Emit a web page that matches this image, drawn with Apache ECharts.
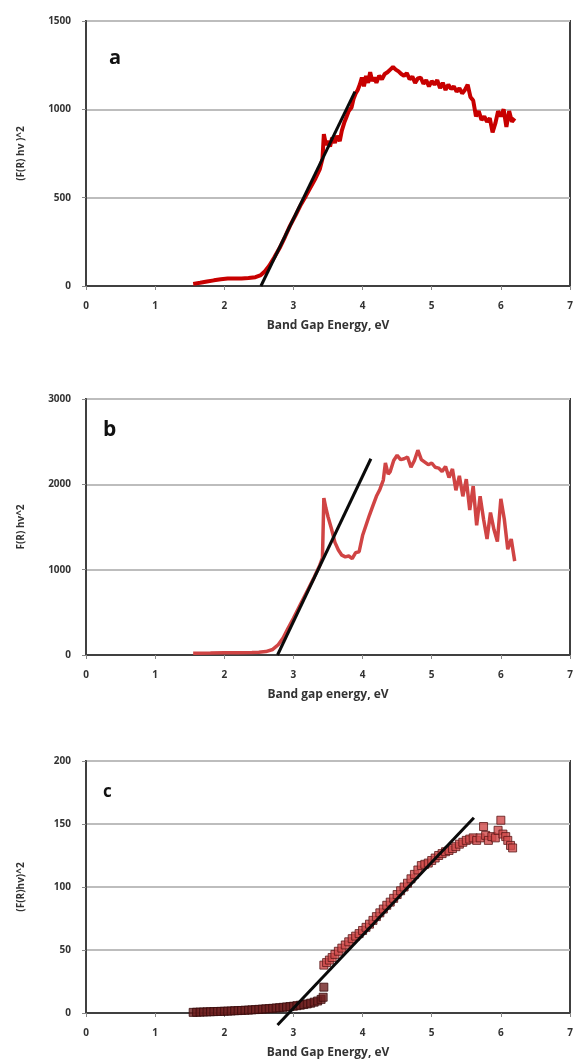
<!DOCTYPE html>
<html>
<head>
<meta charset="utf-8">
<script src="https://cdn.jsdelivr.net/npm/echarts@6/dist/echarts.min.js"></script>
<style>html,body{margin:0;padding:0;background:#fff;}#chart{width:577px;height:1062px;}</style>
</head>
<body>
<div id="chart"></div>
<script>
// ---------- data ----------
const xTicks = [0, 1, 2, 3, 4, 5, 6, 7];

// panel a
const aX = [1.55,1.65,1.75,1.85,1.95,2.05,2.15,2.25,2.35,2.45,2.52,2.58,2.65,2.72,2.8,2.88,2.95,3.03,3.1,3.18,3.25,3.32,3.38,3.42,3.44,3.47,3.5,3.53,3.56,3.6,3.63,3.67,3.7,3.74,3.77,3.8,3.84,3.87,3.9,3.93,3.96,3.99,4.02,4.05,4.08,4.11,4.14,4.17,4.2,4.24,4.28,4.32,4.36,4.4,4.44,4.48,4.52,4.56,4.6,4.64,4.68,4.72,4.76,4.8,4.84,4.88,4.92,4.96,5.0,5.04,5.08,5.12,5.16,5.2,5.24,5.28,5.32,5.36,5.4,5.44,5.48,5.52,5.56,5.6,5.64,5.68,5.72,5.76,5.8,5.84,5.88,5.92,5.96,6.0,6.04,6.08,6.12,6.16,6.2];
const aY = [12,18,25,32,38,42,42,43,45,50,60,80,115,160,215,280,340,400,455,510,560,610,660,720,860,800,820,790,840,810,850,820,880,930,960,990,1010,1060,1090,1110,1140,1180,1130,1190,1150,1210,1160,1180,1150,1190,1170,1200,1210,1225,1240,1225,1215,1200,1190,1205,1170,1185,1150,1175,1180,1145,1165,1130,1160,1140,1165,1120,1150,1110,1140,1115,1130,1100,1120,1090,1110,1140,1070,1050,960,990,940,960,930,950,870,920,990,960,1000,900,990,930,950];
const aFitX = [2.53, 3.89];
const aFitY = [0, 1100];

// panel b
const bX = [1.55,1.8,2.0,2.2,2.4,2.5,2.6,2.7,2.78,2.85,2.92,3.0,3.1,3.2,3.3,3.38,3.42,3.44,3.47,3.5,3.55,3.6,3.65,3.7,3.75,3.8,3.85,3.9,3.95,4.0,4.05,4.1,4.15,4.2,4.25,4.3,4.33,4.37,4.4,4.45,4.5,4.55,4.6,4.65,4.7,4.75,4.8,4.85,4.9,4.95,5.0,5.05,5.1,5.15,5.2,5.25,5.3,5.35,5.4,5.45,5.5,5.55,5.6,5.65,5.7,5.75,5.8,5.85,5.9,5.95,6.0,6.05,6.1,6.15,6.2];
const bY = [20,22,25,25,28,32,40,65,120,200,310,430,590,750,910,1050,1140,1840,1720,1620,1480,1320,1230,1170,1150,1160,1130,1200,1210,1400,1520,1640,1750,1860,1940,2050,2250,2120,2150,2280,2340,2290,2300,2320,2200,2280,2400,2290,2260,2230,2250,2200,2190,2150,2210,2080,2180,1930,2100,1860,2060,1700,1980,1520,1860,1590,1360,1670,1470,1330,1830,1590,1240,1360,1100];
const bFitX = [2.77, 4.12];
const bFitY = [0, 2300];

// panel c
const cLowX = [1.55,1.6,1.65,1.7,1.75,1.8,1.85,1.9,1.95,2.0,2.05,2.1,2.15,2.2,2.25,2.3,2.35,2.4,2.45,2.5,2.55,2.6,2.65,2.7,2.75,2.8,2.85,2.9,2.95,3.0,3.05,3.1,3.15,3.2,3.25,3.3,3.35,3.4,3.43,3.44];
const cLowY = [0.5,0.6,0.7,0.8,0.9,1.0,1.1,1.2,1.3,1.4,1.5,1.6,1.8,1.9,2.0,2.2,2.3,2.5,2.7,2.9,3.1,3.3,3.5,3.7,4.0,4.2,4.5,4.8,5.1,5.4,5.8,6.2,6.7,7.2,7.8,8.6,9.5,10.8,12.5,20.5];
const cHighX = [3.44,3.48,3.52,3.56,3.6,3.65,3.7,3.75,3.8,3.85,3.9,3.95,4.0,4.05,4.1,4.15,4.2,4.25,4.3,4.35,4.4,4.45,4.5,4.55,4.6,4.65,4.7,4.75,4.8,4.85,4.9,4.95,5.0,5.05,5.1,5.15,5.2,5.25,5.3,5.35,5.4,5.45,5.5,5.55,5.6,5.65,5.7,5.75,5.78,5.82,5.87,5.92,5.96,6.0,6.03,6.07,6.1,6.14,6.17];
const cHighY = [38,40,42,44,46.5,49,51.5,54,56.5,59,61,63,65.5,68,70.5,73.5,76.5,79.5,82.5,85.5,88,91,94,97,100,103,106.5,110,113.5,117,118,119,121,123,125,126.5,128,129,130.5,132,134,135.5,137,138,139,137,139,148,141,137,140,139,145,153,142,140,137,133,131];
const cFitX = [2.77, 5.61];
const cFitY = [-9.5, 155];

const panels = [
  {letter: 'a', yName: '(F(R) hv )^2', xName: 'Band Gap Energy, eV', yMax: 1500, yInt: 500},
  {letter: 'b', yName: 'F(R) hv^2', xName: 'Band gap energy, eV', yMax: 3000, yInt: 1000},
  {letter: 'c', yName: '(F(R)hv)^2', xName: 'Band Gap Energy, eV', yMax: 200, yInt: 50}
];

// ---------- layout ----------
const grids = [
  {left: 86, width: 484, top: 21, height: 265},
  {left: 86, width: 484, top: 399, height: 256},
  {left: 86, width: 484, top: 761, height: 252}
];
const FONT = 'Open Sans';
const zip = (xs, ys) => xs.map((x, i) => [x, ys[i]]);

const option = {
  backgroundColor: '#ffffff',
  animation: false,
  grid: grids.map(g => Object.assign({show: true, borderColor: '#404040', borderWidth: 2, backgroundColor: '#fff', containLabel: false}, g)),
  xAxis: panels.map((p, i) => ({
    type: 'value', gridIndex: i, min: xTicks[0], max: xTicks[xTicks.length - 1], interval: 1,
    name: p.xName, nameLocation: 'middle', nameGap: 34,
    nameTextStyle: {fontFamily: FONT, fontWeight: 'bold', fontSize: 12, color: '#333'},
    axisLine: {show: true, lineStyle: {color: '#404040', width: 2}},
    axisTick: {show: true, length: 4, lineStyle: {color: '#888'}},
    axisLabel: {fontFamily: FONT, fontWeight: 'bold', fontSize: 10, color: '#333', margin: 15, formatter: v => String(v)},
    splitLine: {show: false}
  })),
  yAxis: panels.map((p, i) => ({
    type: 'value', gridIndex: i, min: 0, max: p.yMax, interval: p.yInt,
    name: p.yName, nameLocation: 'middle', nameGap: 60,
    nameTextStyle: {fontFamily: FONT, fontWeight: 'bold', fontSize: 10, color: '#333'},
    axisLine: {show: true, lineStyle: {color: '#404040', width: 2}},
    axisTick: {show: true, length: 4, lineStyle: {color: '#888'}},
    axisLabel: {fontFamily: FONT, fontWeight: 'bold', fontSize: 10, color: '#333', margin: 15, formatter: v => String(v)},
    splitLine: {show: true, lineStyle: {color: '#bdbdbd', width: 2}}
  })),
  graphic: panels.map((p, i) => ({
    type: 'text', left: [109, 103, 103][i], top: [48, 420, 784][i],
    style: {text: p.letter, font: 'bold ' + [20, 21, 17][i] + 'px "Open Sans"', fill: '#111'}
  })),
  series: [
    {type: 'line', xAxisIndex: 0, yAxisIndex: 0, data: zip(aX, aY), showSymbol: false,
     lineStyle: {color: '#c80000', width: 4}, z: 2},
    {type: 'line', xAxisIndex: 0, yAxisIndex: 0, data: zip(aFitX, aFitY), showSymbol: false,
     lineStyle: {color: '#0a0a0a', width: 3}, z: 3},
    {type: 'line', xAxisIndex: 1, yAxisIndex: 1, data: zip(bX, bY), showSymbol: false,
     lineStyle: {color: '#d04444', width: 3.5}, z: 2},
    {type: 'line', xAxisIndex: 1, yAxisIndex: 1, data: zip(bFitX, bFitY), showSymbol: false,
     lineStyle: {color: '#0a0a0a', width: 3}, z: 3},
    {type: 'scatter', xAxisIndex: 2, yAxisIndex: 2, data: zip(cLowX, cLowY), symbol: 'rect', symbolSize: 8,
     itemStyle: {color: '#6e1f1f', borderColor: '#3a0d0d', borderWidth: 1}, z: 2},
    {type: 'scatter', xAxisIndex: 2, yAxisIndex: 2, data: zip(cHighX, cHighY), symbol: 'rect', symbolSize: 8,
     itemStyle: {color: '#cf4a4a', borderColor: '#5a1616', borderWidth: 1}, z: 2},
    {type: 'line', xAxisIndex: 2, yAxisIndex: 2, data: zip(cFitX, cFitY), showSymbol: false, clip: false,
     lineStyle: {color: '#0a0a0a', width: 3}, z: 3}
  ]
};

const chart = echarts.init(document.getElementById('chart'), null, {renderer: 'canvas'});
chart.setOption(option);
</script>
</body>
</html>
